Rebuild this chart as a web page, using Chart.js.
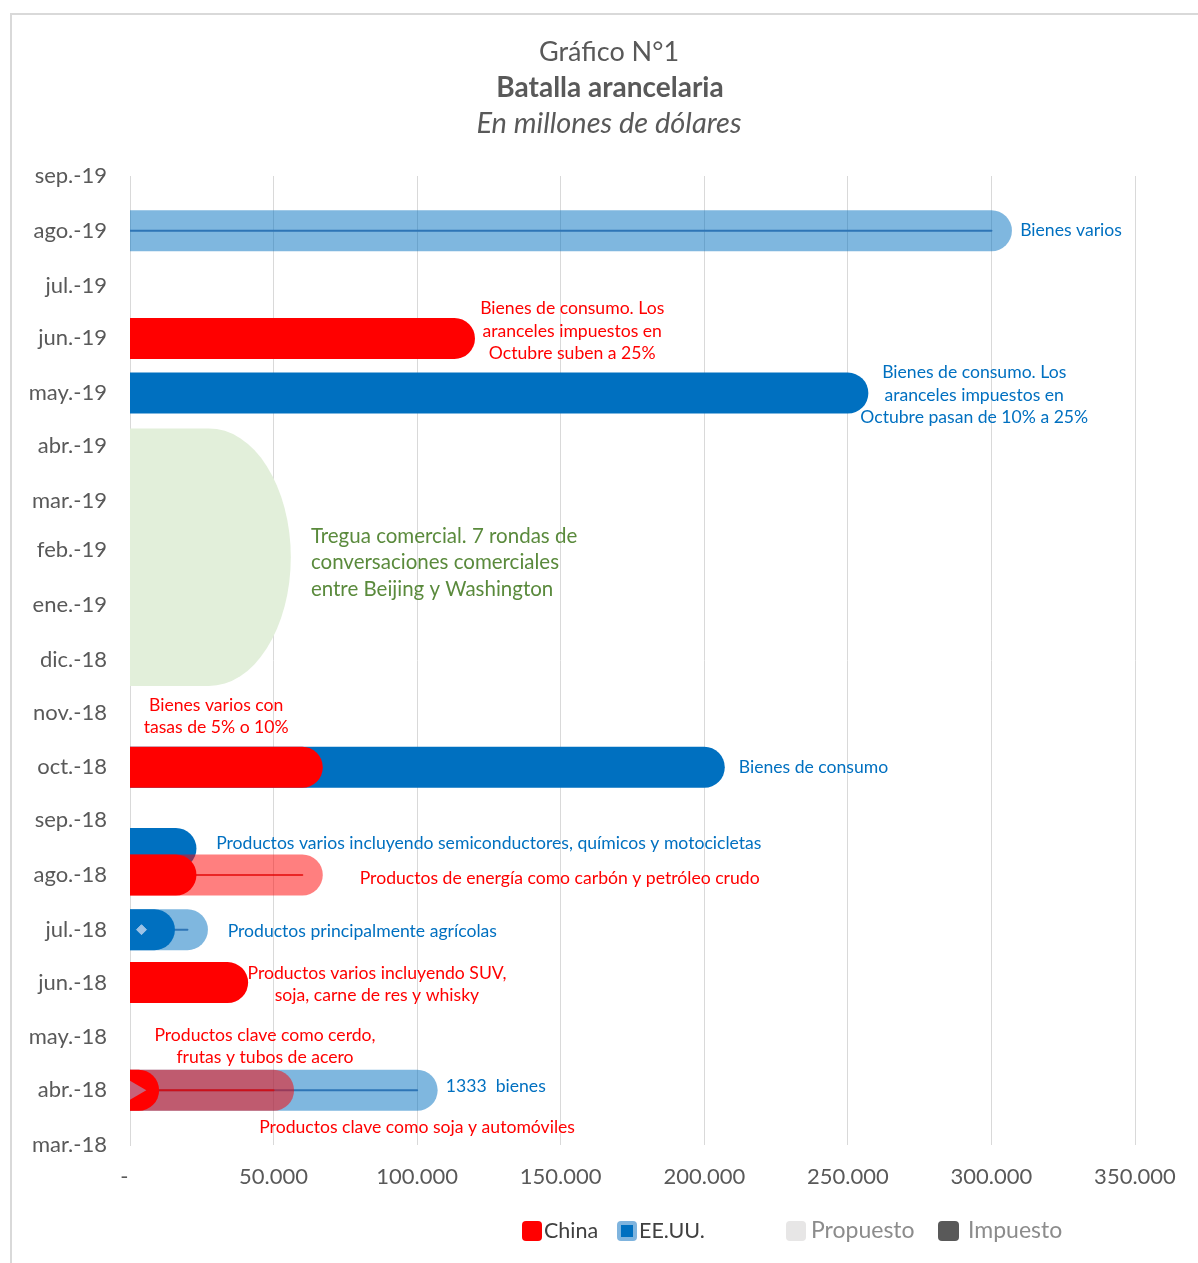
<!DOCTYPE html>
<html><head><meta charset="utf-8">
<script src="https://cdn.jsdelivr.net/npm/chart.js@4.4.0/dist/chart.umd.min.js"></script>
<style>html,body{margin:0;padding:0;background:#fff;}canvas{display:block;}</style>
</head><body>
<canvas id="c" width="1198" height="1263"></canvas>
<script>
// ---------------- data ----------------
const originDate = '2018-03-01';
const monthDates = ['2018-03-01','2018-04-01','2018-05-01','2018-06-01','2018-07-01','2018-08-01','2018-09-01','2018-10-01','2018-11-01','2018-12-01','2019-01-01','2019-02-01','2019-03-01','2019-04-01','2019-05-01','2019-06-01','2019-07-01','2019-08-01','2019-09-01'];
const monthLabels = ['mar.-18','abr.-18','may.-18','jun.-18','jul.-18','ago.-18','sep.-18','oct.-18','nov.-18','dic.-18','ene.-19','feb.-19','mar.-19','abr.-19','may.-19','jun.-19','jul.-19','ago.-19','sep.-19'];
const xTickValues = [0,50000,100000,150000,200000,250000,300000,350000];
const xTickLabels = ['-','50.000','100.000','150.000','200.000','250.000','300.000','350.000'];

const chinaProposedDates  = ['2018-04-01','2018-08-01'];
const chinaProposedValues = [50000, 60000];
const chinaImposedDates   = ['2018-04-01','2018-06-01','2018-08-01','2018-10-01','2019-06-01'];
const chinaImposedValues  = [3000, 34000, 16000, 60000, 113000];
const usProposedDates     = ['2018-04-01','2018-07-01','2019-08-01'];
const usProposedValues    = [100000, 20000, 300000];
const usImposedDates      = ['2018-07-01','2018-08-16','2018-10-01','2019-05-01'];
const usImposedValues     = [8500, 16000, 200000, 250000];
const usMarkerDates       = ['2018-07-01'];
const usMarkerValues      = [4000];
const chinaMarkerDates    = ['2018-04-01'];
const chinaMarkerValues   = [1500];
const truceDates          = ['2018-11-16','2019-04-11'];
const truceValue          = 56000;

const noteTexts = [
  ['Bienes varios'],
  ['Bienes de consumo. Los','aranceles impuestos en','Octubre suben a 25%'],
  ['Bienes de consumo. Los','aranceles impuestos en','Octubre pasan de 10% a 25%'],
  ['Tregua comercial. 7 rondas de','conversaciones comerciales','entre Beijing y Washington'],
  ['Bienes varios con','tasas de 5% o 10%'],
  ['Bienes de consumo'],
  ['Productos varios incluyendo semiconductores, químicos y motocicletas'],
  ['Productos de energía como carbón y petróleo crudo'],
  ['Productos principalmente agrícolas'],
  ['Productos varios incluyendo SUV,','soja, carne de res y whisky'],
  ['Productos clave como cerdo,','frutas y tubos de acero'],
  ['1333  bienes'],
  ['Productos clave como soja y automóviles']
];
const noteDates  = ['2019-08-01','2019-06-05','2019-04-30','2019-01-25','2018-10-30','2018-10-01','2018-08-19','2018-07-30','2018-06-30','2018-05-31','2018-04-26','2018-04-03','2018-03-11'];
const noteValues = [310000,154000,294000,63000,30000,212000,30000,80000,34000,86000,47000,110000,45000];
const noteWho    = ['us','china','us','truce','china','us','us','china','us','china','china','us','china'];

const legendLabels = ['China','EE.UU.','Propuesto','Impuesto'];

// ---------------- styles ----------------
const FONT = 'Lato, "Open Sans", sans-serif';
const GREY = '#595959';
const RED = '#FF0000', RED_LIGHT = 'rgba(255,0,0,0.5)', RED_LINE = 'rgba(225,0,0,0.7)';
const BLUE = '#0070C0', BLUE_LIGHT = 'rgba(0,112,192,0.5)', BLUE_LINE = '#2E75B6';
const GREEN_FILL = '#E2EFDA', GREEN_TEXT = '#5A8A3C';
const BAR_W = 41;

const dayOf = s => Math.round((Date.parse(s) - Date.parse(originDate)) / 86400000);

function lineBar(date, value, color, width, order) {
  const y = dayOf(date);
  return {
    type: 'scatter', showLine: true,
    data: [{x: 0, y: y}, {x: value, y: y}],
    borderColor: color, backgroundColor: color, borderWidth: width,
    borderCapStyle: 'round', pointRadius: 0, pointHoverRadius: 0,
    clip: 0, order: order
  };
}

const datasets = [];
usProposedDates.forEach((d, i) => {
  datasets.push(lineBar(d, usProposedValues[i], BLUE_LIGHT, BAR_W, 60));
  datasets.push(lineBar(d, usProposedValues[i], BLUE_LINE, 2, 55));
});
usImposedDates.forEach((d, i) => datasets.push(lineBar(d, usImposedValues[i], BLUE, BAR_W, 50)));
chinaProposedDates.forEach((d, i) => {
  datasets.push(lineBar(d, chinaProposedValues[i], RED_LIGHT, BAR_W, 45));
  datasets.push(lineBar(d, chinaProposedValues[i], RED_LINE, 2, 40));
});
chinaImposedDates.forEach((d, i) => datasets.push(lineBar(d, chinaImposedValues[i], RED, BAR_W, 30)));
datasets.push({
  type: 'scatter', data: usMarkerDates.map((d, i) => ({x: usMarkerValues[i], y: dayOf(d)})),
  pointStyle: 'rectRot', pointRadius: 5, backgroundColor: '#9DC3E6', borderColor: '#9DC3E6', borderWidth: 1, clip: 0, order: 10
});
datasets.push({
  type: 'scatter', data: chinaMarkerDates.map((d, i) => ({x: chinaMarkerValues[i], y: dayOf(d)})),
  pointStyle: 'triangle', rotation: 90, pointRadius: 12, backgroundColor: '#C8627A', borderColor: '#C8627A', borderWidth: 0, clip: 0, order: 10
});

// ---------------- plugins ----------------
const framePlugin = {
  id: 'frame',
  beforeDraw(chart) {
    const ctx = chart.ctx;
    ctx.save();
    ctx.fillStyle = '#fff';
    ctx.fillRect(0, 0, chart.width, chart.height);
    ctx.strokeStyle = '#D9D9D9';
    ctx.lineWidth = 2;
    ctx.beginPath();
    ctx.moveTo(11, chart.height);
    ctx.lineTo(11, 14);
    ctx.lineTo(chart.width, 14);
    ctx.stroke();
    ctx.fillStyle = GREY;
    ctx.textAlign = 'center';
    ctx.textBaseline = 'middle';
    ctx.font = '27px ' + FONT;
    ctx.fillText('Gráfico N°1', 609, 52);
    ctx.font = 'bold 28px ' + FONT;
    ctx.fillText('Batalla arancelaria', 610, 88);
    ctx.font = 'italic 29px ' + FONT;
    ctx.fillText('En millones de dólares', 609, 124);
    ctx.restore();
  }
};

const trucePlugin = {
  id: 'truce',
  beforeDatasetsDraw(chart) {
    const {ctx, scales: {x, y}, chartArea} = chart;
    const top = y.getPixelForValue(dayOf(truceDates[1]));
    const bottom = y.getPixelForValue(dayOf(truceDates[0]));
    const left = chartArea.left;
    const right = x.getPixelForValue(truceValue);
    const ry = (bottom - top) / 2;
    const rx = 82;
    ctx.save();
    ctx.fillStyle = GREEN_FILL;
    ctx.beginPath();
    ctx.moveTo(left, top);
    ctx.lineTo(right - rx, top);
    ctx.ellipse(right - rx, top + ry, rx, ry, 0, -Math.PI / 2, Math.PI / 2);
    ctx.lineTo(left, bottom);
    ctx.closePath();
    ctx.fill();
    ctx.restore();
  }
};

const notesPlugin = {
  id: 'notes',
  afterDatasetsDraw(chart) {
    const {ctx, scales: {x, y}} = chart;
    ctx.save();
    ctx.textBaseline = 'middle';
    noteTexts.forEach((lines, i) => {
      const who = noteWho[i];
      const px = x.getPixelForValue(noteValues[i]);
      const py = y.getPixelForValue(dayOf(noteDates[i]));
      let size = 17.6, lh = 22.5, align = 'left', color = BLUE;
      if (who === 'china') color = RED;
      if (who === 'truce') { color = GREEN_TEXT; size = 20.5; lh = 26.5; }
      if (lines.length > 1 && who !== 'truce') align = 'center';
      ctx.font = size + 'px ' + FONT;
      ctx.fillStyle = color;
      ctx.textAlign = align;
      const y0 = py - (lines.length - 1) * lh / 2;
      lines.forEach((t, k) => ctx.fillText(t, px, y0 + k * lh));
    });
    ctx.restore();
  }
};

function roundRect(ctx, x, y, w, h, r) {
  ctx.beginPath();
  ctx.moveTo(x + r, y);
  ctx.arcTo(x + w, y, x + w, y + h, r);
  ctx.arcTo(x + w, y + h, x, y + h, r);
  ctx.arcTo(x, y + h, x, y, r);
  ctx.arcTo(x, y, x + w, y, r);
  ctx.closePath();
}

const legendPlugin = {
  id: 'customLegend',
  afterDraw(chart) {
    const ctx = chart.ctx;
    const boxX = [522, 617, 786, 938];
    const textX = [544, 639, 811, 968];
    const textSize = [21.5, 21.5, 23, 23];
    const textColor = ['#404040', '#404040', '#8C8C8C', '#8C8C8C'];
    const cy = 1231, bs = 20;
    ctx.save();
    ctx.fillStyle = RED; roundRect(ctx, boxX[0], cy - bs / 2, bs, bs, 4); ctx.fill();
    ctx.fillStyle = '#7FB4DE'; roundRect(ctx, boxX[1], cy - bs / 2, bs, bs, 4); ctx.fill();
    ctx.fillStyle = BLUE; ctx.fillRect(boxX[1] + 4, cy - bs / 2 + 4, bs - 8, bs - 8);
    ctx.fillStyle = '#E7E6E6'; roundRect(ctx, boxX[2], cy - bs / 2, bs, bs, 4); ctx.fill();
    ctx.fillStyle = '#595959'; roundRect(ctx, boxX[3], cy - bs / 2, bs + 1, bs, 4); ctx.fill();
    ctx.textAlign = 'left';
    ctx.textBaseline = 'middle';
    legendLabels.forEach((t, i) => {
      ctx.font = textSize[i] + 'px ' + FONT;
      ctx.fillStyle = textColor[i];
      ctx.fillText(t, textX[i], cy);
    });
    ctx.restore();
  }
};

// ---------------- chart ----------------
new Chart(document.getElementById('c'), {
  type: 'scatter',
  data: { datasets: datasets },
  options: {
    responsive: false,
    animation: false,
    devicePixelRatio: 1,
    events: [],
    layout: { padding: { top: 176, right: 63, bottom: 78, left: 0 } },
    plugins: { legend: { display: false }, tooltip: { enabled: false }, title: { display: false } },
    scales: {
      x: {
        type: 'linear', min: 0, max: 350000,
        afterBuildTicks: s => { s.ticks = xTickValues.map(v => ({ value: v })); },
        afterFit: s => { s.height = 40; },
        grid: { color: '#D9D9D9', lineWidth: 1, drawTicks: false },
        border: { display: false },
        ticks: {
          autoSkip: false, maxRotation: 0, padding: 19, color: GREY,
          font: { family: FONT, size: 22 },
          callback: (v, i) => i === 0 ? xTickLabels[i] + '  ' : xTickLabels[i]
        }
      },
      y: {
        type: 'linear', min: 0, max: dayOf(monthDates[monthDates.length - 1]),
        afterBuildTicks: s => { s.ticks = monthDates.map(d => ({ value: dayOf(d) })); },
        afterFit: s => { s.width = 130; },
        grid: { display: false, drawTicks: false },
        border: { display: true, color: '#D9D9D9', width: 1 },
        ticks: {
          autoSkip: false, padding: 23, color: GREY,
          font: { family: FONT, size: 22 },
          callback: (v, i) => monthLabels[i]
        }
      }
    }
  },
  plugins: [framePlugin, trucePlugin, notesPlugin, legendPlugin]
});
</script>
</body></html>
